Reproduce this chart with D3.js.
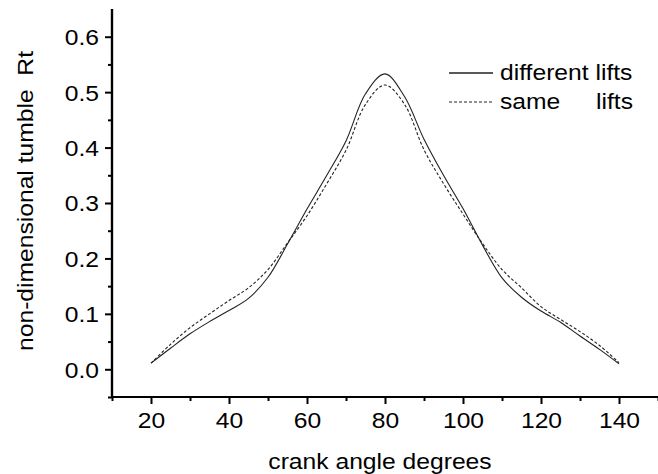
<!DOCTYPE html>
<html>
<head>
<meta charset="utf-8">
<script src="https://cdn.jsdelivr.net/npm/d3@7"></script>
<style>
  body { margin: 0; background: #fff; }
  text { font-family: 'Liberation Sans', Arial, sans-serif; fill: #000; }
</style>
</head>
<body>
<svg id="chart" width="658" height="474"></svg>
<script>
// crank angle (deg)
const angles = [20, 25, 30, 35, 40, 45, 50, 55, 60, 65, 70, 75, 80, 85, 90, 95, 100, 105, 110, 115, 120, 125, 130, 135, 140]
// non-dimensional tumble Rt
const differentLifts = [0.011, 0.038, 0.064, 0.086, 0.106, 0.128, 0.166, 0.226, 0.289, 0.349, 0.412, 0.497, 0.533, 0.492, 0.415, 0.35, 0.29, 0.224, 0.165, 0.13, 0.105, 0.085, 0.06, 0.036, 0.01]
const sameLifts = [0.011, 0.045, 0.075, 0.1, 0.124, 0.147, 0.18, 0.228, 0.277, 0.334, 0.395, 0.478, 0.513, 0.478, 0.396, 0.335, 0.28, 0.227, 0.18, 0.147, 0.113, 0.09, 0.068, 0.043, 0.012]

const xMajor = [20, 40, 60, 80, 100, 120, 140]
const xMinor = [10, 30, 50, 70, 90, 110, 130, 150]
const yMajor = [0, 0.1, 0.2, 0.3, 0.4, 0.5, 0.6]
const yMinor = [-0.05, 0.05, 0.15, 0.25, 0.35, 0.45, 0.55]

const series = [
  { name: 'different lifts', values: differentLifts, dash: null },
  { name: 'same', values: sameLifts, dash: '3,2' },
]

const STRETCH = 1.12
const FONT = 22

let svg = d3.select('#chart')

let x = d3.scaleLinear().domain([10, 150]).range([112, 658])
let y = d3.scaleLinear().domain([-0.05, 0.65]).range([397, 9])

// widen glyphs a bit, the source font runs wide
function stretch(sel) {
  sel.each(function() {
    let w = this.getComputedTextLength()
    d3.select(this).attr('textLength', w * STRETCH).attr('lengthAdjust', 'spacingAndGlyphs')
  })
}

// x axis
let gx = svg.append('g').attr('transform', 'translate(0,397)')
gx.call(d3.axisBottom(x).tickValues(xMajor).tickSize(7).tickPadding(8).tickFormat(d3.format('d')))
gx.append('g').call(d3.axisBottom(x).tickValues(xMinor).tickSize(4).tickFormat(''))
gx.selectAll('.domain').attr('stroke-width', 2.2).attr('d', `M${x.range()[0]},0H${x.range()[1]}`)
gx.selectAll('.tick line').attr('stroke-width', 2)
gx.selectAll('.tick text').attr('font-size', FONT).attr('font-family', null).attr('dy', '0.71em').call(stretch)

// y axis
let gy = svg.append('g').attr('transform', 'translate(112,0)')
gy.call(d3.axisLeft(y).tickValues(yMajor).tickSize(7).tickPadding(6).tickFormat(d3.format('.1f')))
gy.append('g').call(d3.axisLeft(y).tickValues(yMinor).tickSize(4).tickFormat(''))
gy.selectAll('.domain').attr('stroke-width', 2.2).attr('d', `M0,${y.range()[0]}V${y.range()[1]}`)
gy.selectAll('.tick line').attr('stroke-width', 2)
gy.selectAll('.tick text').attr('font-size', FONT).attr('font-family', null).attr('dy', '0.36em').call(stretch)

// axis titles
svg.append('text')
  .attr('x', 380)
  .attr('y', 469)
  .attr('text-anchor', 'middle')
  .style('font-size', FONT + 'px')
  .text('crank angle degrees')
  .call(stretch)

svg.append('text')
  .attr('transform', 'translate(33,201) rotate(-90)')
  .attr('text-anchor', 'middle')
  .style('font-size', FONT + 'px')
  .style('white-space', 'pre')
  .attr('xml:space', 'preserve')
  .text('non-dimensional tumble  Rt')
  .call(stretch)

// curves
let line = d3.line()
  .x((d, i) => x(angles[i]))
  .y(d => y(d))
  .curve(d3.curveCatmullRom.alpha(0.5))

svg.selectAll('path.series')
  .data(series)
  .enter()
  .append('path')
  .attr('class', 'series')
  .attr('fill', 'none')
  .attr('stroke', '#222')
  .attr('stroke-width', 1.1)
  .attr('stroke-dasharray', d => d.dash)
  .attr('d', d => line(d.values))

// legend
let legend = svg.append('g')
series.forEach((s, i) => {
  let ly = 73 + i * 29
  legend.append('line')
    .attr('x1', 449).attr('x2', 493)
    .attr('y1', ly).attr('y2', ly)
    .attr('stroke', '#222')
    .attr('stroke-width', s.dash ? 1.1 : 1.4)
    .attr('stroke-dasharray', s.dash)
  legend.append('text')
    .attr('x', 500)
    .attr('y', ly + 6.5)
    .style('font-size', FONT + 'px')
    .text(s.name)
    .call(stretch)
})
legend.append('text')
  .attr('x', 633)
  .attr('y', 73 + 29 + 6.5)
  .attr('text-anchor', 'end')
  .style('font-size', FONT + 'px')
  .text('lifts')
  .call(stretch)
</script>
</body>
</html>
